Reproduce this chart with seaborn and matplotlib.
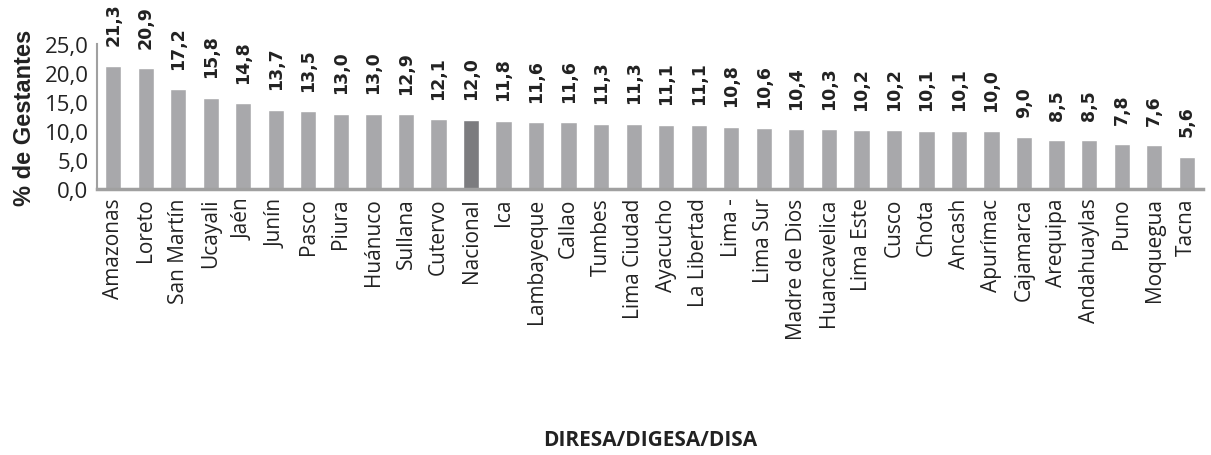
import matplotlib
matplotlib.use("Agg")
import matplotlib.pyplot as plt
import seaborn as sns
import pandas as pd

regions = ["Amazonas", "Loreto", "San Martín", "Ucayali", "Jaén", "Junín", "Pasco",
           "Piura", "Huánuco", "Sullana", "Cutervo", "Nacional", "Ica", "Lambayeque",
           "Callao", "Tumbes", "Lima Ciudad", "Ayacucho", "La Libertad", "Lima -",
           "Lima Sur", "Madre de Dios", "Huancavelica", "Lima Este", "Cusco", "Chota",
           "Ancash", "Apurímac", "Cajamarca", "Arequipa", "Andahuaylas", "Puno",
           "Moquegua", "Tacna"]
pct = [21.3, 20.9, 17.2, 15.8, 14.8, 13.7, 13.5, 13.0, 13.0, 12.9, 12.1, 12.0, 11.8,
       11.6, 11.6, 11.3, 11.3, 11.1, 11.1, 10.8, 10.6, 10.4, 10.3, 10.2, 10.2, 10.1,
       10.1, 10.0, 9.0, 8.5, 8.5, 7.8, 7.6, 5.6]
yticks = [0, 5, 10, 15, 20, 25]

df = pd.DataFrame({"region": regions, "pct": pct})
df["grupo"] = ["nac" if r == "Nacional" else "dep" for r in regions]

sns.set_style("white")
plt.rcParams['font.family'] = ['Open Sans', 'DejaVu Sans']

fig = plt.figure(figsize=(12.11, 4.56), dpi=100)
ax = fig.add_axes([0.080, 0.583, 0.9134, 0.318])

sns.barplot(data=df, x="region", y="pct", hue="grupo",
            palette={"dep": "#A7A8AC", "nac": "#7B7C80"},
            dodge=False, width=0.5, legend=False, ax=ax)

for i, v in enumerate(pct):
    ax.text(i, v + 3.5, f"{v:.1f}".replace(".", ","), rotation=90, ha="center",
            va="bottom", fontsize=12.5, fontweight="bold", color="#222222",
            family="DejaVu Sans", clip_on=False)

ax.set_ylim(0, 25)
ax.set_xlim(-0.5, len(regions) - 0.5)
ax.set_yticks(yticks)
ax.set_yticklabels([f"{t:.1f}".replace(".", ",") for t in yticks], fontsize=16, color="#222222")
ax.set_xticks(range(len(regions)))
ax.set_xticklabels(regions, rotation=90, fontsize=15, color="#222222")
ax.tick_params(axis="both", length=0, pad=6)

for s in ["top", "right"]:
    ax.spines[s].set_visible(False)
ax.spines["left"].set_color("#A0A0A0")
ax.spines["left"].set_linewidth(1.5)
ax.spines["bottom"].set_color("#A0A0A0")
ax.spines["bottom"].set_linewidth(2.5)

ax.set_ylabel("% de Gestantes", fontsize=17, fontweight="bold", family="Liberation Sans",
              color="#222222", labelpad=6)
ax.set_xlabel("")
fig.text(0.537, 0.035, "DIRESA/DIGESA/DISA", ha="center", va="center",
         fontsize=15, fontweight="bold", color="#222222")

fig.savefig("out.png", dpi=100)
